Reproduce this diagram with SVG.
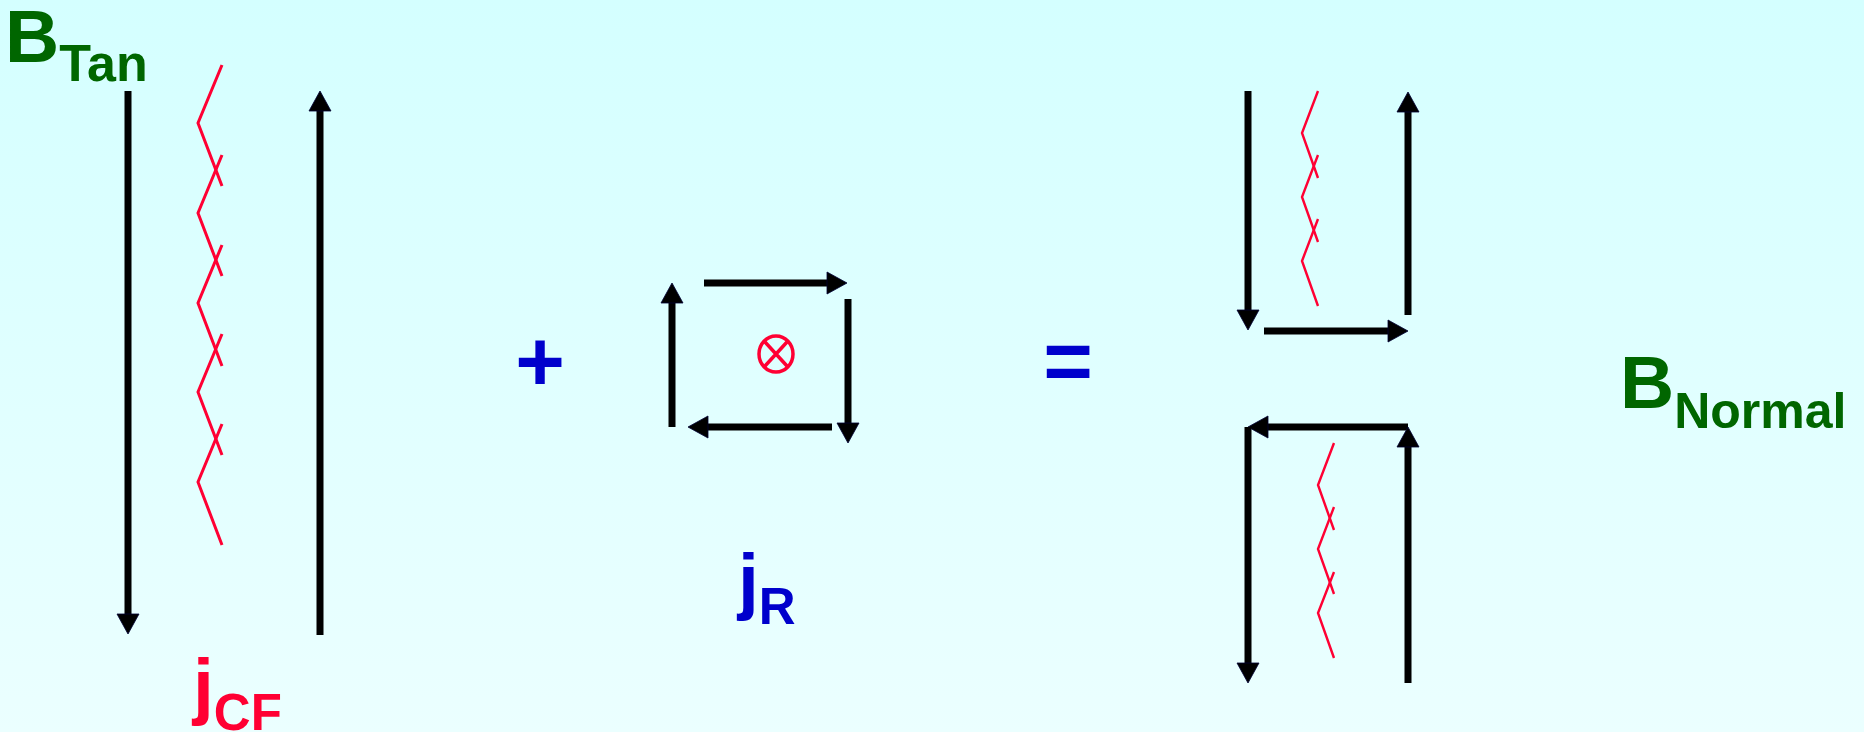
<svg xmlns="http://www.w3.org/2000/svg" width="1864" height="732" viewBox="0 0 1864 732">
<defs>
<linearGradient id="bg" x1="0" y1="0" x2="0" y2="1">
<stop offset="0" stop-color="#D4FFFF"/>
<stop offset="1" stop-color="#EBFFFF"/>
</linearGradient>
<marker id="ah" markerUnits="userSpaceOnUse" markerWidth="22" markerHeight="22" refX="0" refY="11" orient="auto" overflow="visible">
<path d="M0,0 L20,11 L0,22 Z" fill="#000" stroke="#000033" stroke-width="0.8"/>
</marker>
<style>
.ar{stroke:#000;stroke-width:7;fill:none;marker-end:url(#ah)}
.zz{stroke:#FF0033;stroke-width:3;fill:none}
.zs{stroke:#FF0033;stroke-width:2.4;fill:none}
.t{font-family:"Liberation Sans",Arial,sans-serif;font-weight:bold}
.g{fill:#006600}
.r{fill:#FF0033}
.b{fill:#0000CC}
</style>
</defs>
<rect x="0" y="0" width="1864" height="732" fill="url(#bg)"/>

<g id="label-btan"><text class="t g" x="5" y="62" font-size="75">B<tspan font-size="52" dy="19">Tan</tspan></text></g>
<g id="label-jcf"><text class="t r" x="193" y="711" font-size="75">j<tspan font-size="51" dy="19">CF</tspan></text></g>
<g id="label-jr"><text class="t b" x="738" y="606" font-size="75">j<tspan font-size="51" dy="18">R</tspan></text></g>
<g id="label-bnormal"><text class="t g" x="1620" y="408" font-size="75">B<tspan font-size="50" dy="20">Normal</tspan></text></g>
<g id="plus"><text class="t b" x="540" y="391" font-size="85" text-anchor="middle">+</text></g>
<g id="equals"><text class="t b" x="1068" y="390" font-size="85" text-anchor="middle">=</text></g>

<g id="current-cf-left">
<polyline class="zz" points="222,65 198,123 222,186"/>
<polyline class="zz" points="222,155 198,213 222,276"/>
<polyline class="zz" points="222,245 198,303 222,366"/>
<polyline class="zz" points="222,334 198,392 222,455"/>
<polyline class="zz" points="222,424 198,482 222,545"/>
</g>
<g id="current-cf-top">
<polyline class="zs" points="1318,91 1302,133 1318,178"/>
<polyline class="zs" points="1318,155 1302,197 1318,242"/>
<polyline class="zs" points="1318,219 1302,261 1318,306"/>
</g>
<g id="current-cf-bottom">
<polyline class="zs" points="1334,443 1318,485 1334,530"/>
<polyline class="zs" points="1334,507 1318,549 1334,594"/>
<polyline class="zs" points="1334,572 1318,613 1334,658"/>
</g>
<g id="current-r">
<ellipse cx="776" cy="354" rx="17" ry="18" fill="none" stroke="#FF0033" stroke-width="3.5"/>
<path d="M765,342 L787,366 M787,342 L765,366" stroke="#FF0033" stroke-width="3.5" fill="none"/>
</g>

<g id="connectors">
<line class="ar" x1="128" y1="91" x2="128" y2="614"/>
<line class="ar" x1="320" y1="635" x2="320" y2="111"/>

<line class="ar" x1="704" y1="283" x2="827" y2="283"/>
<line class="ar" x1="848" y1="299" x2="848" y2="423"/>
<line class="ar" x1="832" y1="427" x2="708" y2="427"/>
<line class="ar" x1="672" y1="427" x2="672" y2="303"/>

<line class="ar" x1="1248" y1="91" x2="1248" y2="310"/>
<line class="ar" x1="1408" y1="315" x2="1408" y2="112"/>
<line class="ar" x1="1264" y1="331" x2="1388" y2="331"/>

<line class="ar" x1="1408" y1="427" x2="1268" y2="427"/>
<line class="ar" x1="1408" y1="683" x2="1408" y2="447"/>
<line class="ar" x1="1248" y1="427" x2="1248" y2="663"/>
</g>
</svg>
